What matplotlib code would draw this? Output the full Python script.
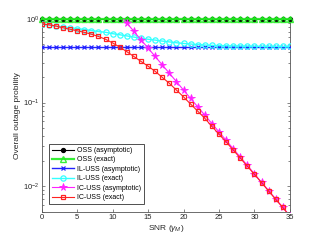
import numpy as np
import matplotlib
matplotlib.use('Agg')
import matplotlib.pyplot as plt

# ==== data ====
snr = list(range(0, 36))

oss_asym = [0.995] * 36
oss_exact = [0.995] * 36

il_asym = [0.464] * 36
il_exact = [0.865, 0.84, 0.815, 0.795, 0.78, 0.765, 0.745, 0.725, 0.705, 0.69,
            0.665, 0.645, 0.625, 0.605, 0.585, 0.57, 0.557, 0.542, 0.53, 0.518,
            0.508, 0.5, 0.492, 0.486, 0.482, 0.478, 0.476, 0.474, 0.473, 0.472,
            0.471, 0.47, 0.469, 0.469, 0.468, 0.468]

ic_snr = list(range(11, 36))
ic_asym = [1.12, 0.891, 0.708, 0.562, 0.447, 0.355, 0.282, 0.224, 0.178, 0.141,
           0.112, 0.0891, 0.0708, 0.0562, 0.0447, 0.0355, 0.0282, 0.0224, 0.0178,
           0.0141, 0.0112, 0.00891, 0.00708, 0.00562, 0.00447]
ic_exact = [0.865, 0.85, 0.82, 0.78, 0.75, 0.72, 0.69, 0.655, 0.615, 0.57,
            0.515, 0.46, 0.405, 0.355, 0.31, 0.272, 0.236, 0.2, 0.17, 0.141,
            0.117, 0.096, 0.079, 0.065, 0.052, 0.042, 0.034, 0.0272, 0.0218,
            0.0174, 0.0139, 0.0111, 0.0088, 0.007, 0.0056, 0.0044]

labels = ['OSS (asymptotic)', 'OSS (exact)', 'IL-USS (asymptotic)',
          'IL-USS (exact)', 'IC-USS (asymptotic)', 'IC-USS (exact)']

plt.rcParams['font.family'] = ['Liberation Sans', 'DejaVu Sans']
plt.rcParams['mathtext.fontset'] = 'custom'
plt.rcParams['mathtext.it'] = 'Liberation Sans:italic'
plt.rcParams['mathtext.rm'] = 'Liberation Sans'

fig = plt.figure(figsize=(3.21, 2.41), dpi=100)
ax = fig.add_axes([0.13, 0.122, 0.773, 0.800])

ms = 3.8
ax.semilogy(snr, oss_asym, '-o', color='black', lw=0.8, ms=2.8, mfc='black', label=labels[0], clip_on=False, zorder=3)
ax.semilogy(snr, oss_exact, '-^', color='#22ee22', lw=1.6, ms=ms, mfc='none', mew=1.0, alpha=0.9, label=labels[1], clip_on=False, zorder=4)
ax.semilogy(snr, il_asym, '-x', color='#2222ff', lw=1.0, ms=3.2, mew=0.9, label=labels[2], zorder=3)
ax.semilogy(snr, il_exact, '-o', color='#33ffff', lw=1.0, ms=ms, mfc='none', mew=0.9, label=labels[3], zorder=4)
ax.semilogy(ic_snr, ic_asym, '-*', color='#ff22ff', lw=0.8, ms=5.5, mew=0.6, label=labels[4], zorder=4)
ax.semilogy(snr, ic_exact, '-s', color='#ff2222', lw=0.8, ms=3.5, mfc='none', mew=0.9, label=labels[5], zorder=5)

ax.set_xlim(0, 35)
ax.set_ylim(0.005, 1)
ax.set_xticks(range(0, 36, 5))
ax.tick_params(which='both', direction='in', top=True, right=True, labelsize=5.5,
               color='#555555', labelcolor='#262626', pad=2)
ax.tick_params(which='major', length=2.5, width=0.5)
ax.tick_params(which='minor', length=1.5, width=0.5)
for s in ax.spines.values():
    s.set_color('#555555')
    s.set_linewidth(0.6)

ax.set_xlabel(r'SNR ($\gamma_M$)', fontsize=6, color='#262626', labelpad=1)
ax.set_ylabel('Overall outage probility', fontsize=6, color='#262626', labelpad=1)

leg = ax.legend(loc='lower left', bbox_to_anchor=(0.03, 0.04), fontsize=5,
                fancybox=False, framealpha=1, edgecolor='#333333', borderaxespad=0,
                handlelength=3.2, handletextpad=0.4, borderpad=0.4, labelspacing=0.35)
leg.get_frame().set_linewidth(0.6)

fig.savefig('out.png', dpi=100)
